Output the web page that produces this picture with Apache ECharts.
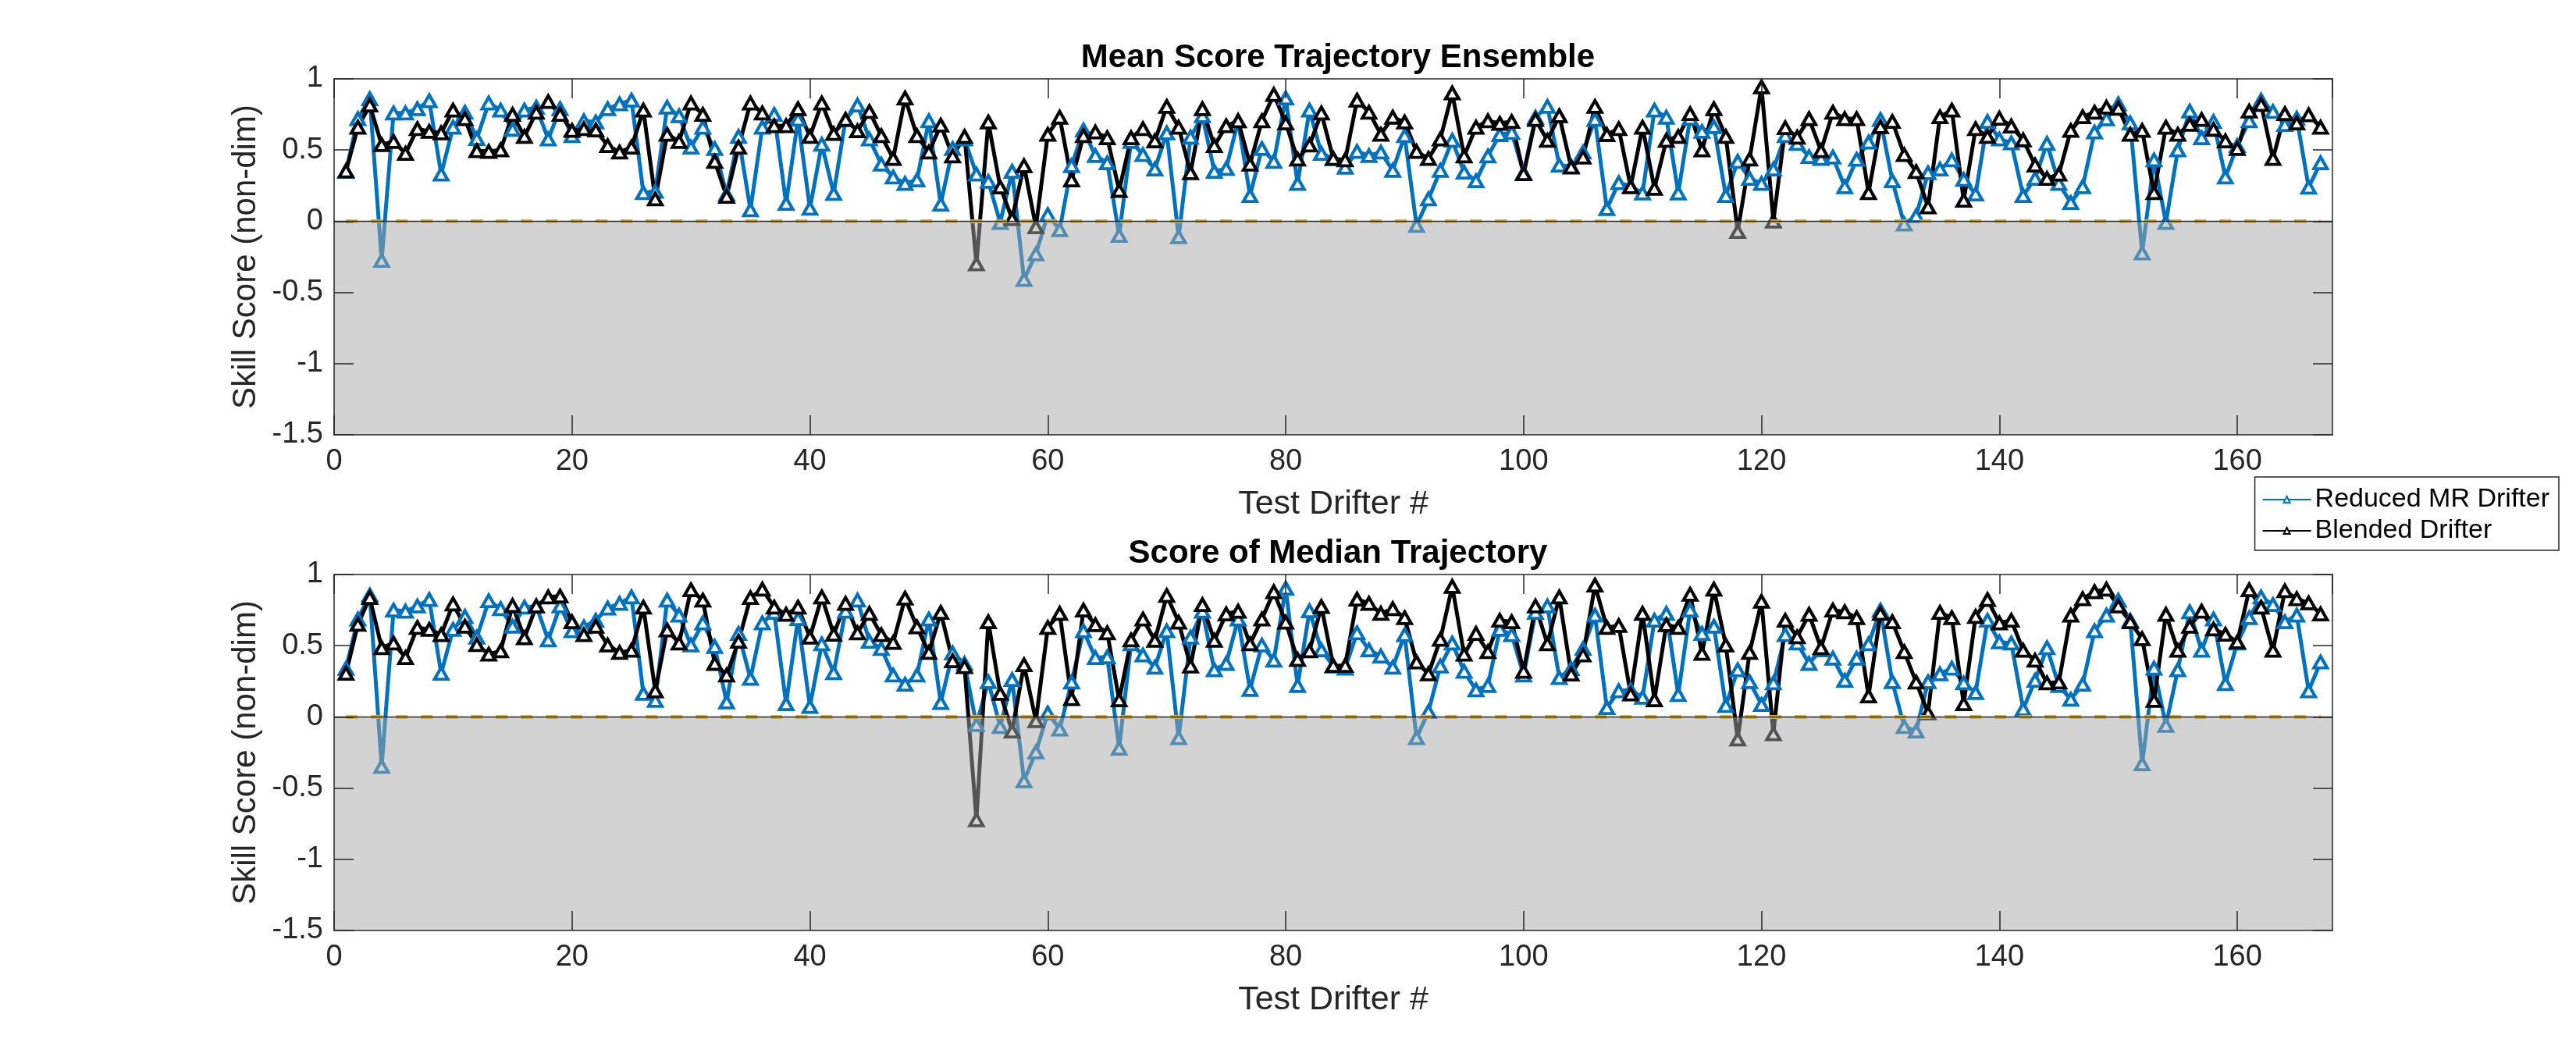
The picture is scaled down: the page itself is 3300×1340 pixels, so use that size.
<!DOCTYPE html>
<html style="height: 100%">
<head>
<meta charset="utf-8">
<script src="https://cdn.jsdelivr.net/npm/echarts@6/dist/echarts.min.js"></script>
</head>
<body style="height: 100%; margin: 0; background: #fff">
<div id="main" style="width: 3300px; height: 1340px;"></div>
<script type="text/javascript">
// skill scores per test drifter
var meanReduced = [0.35,0.72,0.86,-0.275,0.76,0.76,0.79,0.846,0.33,0.66,0.765,0.58,0.83,0.78,0.645,0.78,0.80,0.577,0.79,0.60,
    0.705,0.696,0.79,0.824,0.85,0.20,0.21,0.80,0.74,0.52,0.66,0.51,0.19,0.595,0.08,0.66,0.75,0.125,0.715,0.09,
    0.54,0.195,0.714,0.815,0.577,0.40,0.31,0.265,0.29,0.705,0.12,0.51,0.577,0.33,0.28,-0.01,0.35,-0.41,-0.23,0.046,
    -0.06,0.39,0.64,0.46,0.41,-0.10,0.56,0.467,0.366,0.62,-0.11,0.59,0.74,0.35,0.37,0.705,0.18,0.51,0.42,0.865,
    0.265,0.78,0.476,0.44,0.378,0.49,0.46,0.485,0.357,0.60,-0.03,0.156,0.357,0.568,0.344,0.284,0.458,0.608,0.623,0.34,
    0.73,0.806,0.394,0.385,0.485,0.714,0.088,0.27,0.247,0.198,0.78,0.73,0.198,0.723,0.63,0.663,0.18,0.42,0.30,0.265,
    0.366,0.60,0.546,0.454,0.44,0.45,0.242,0.434,0.555,0.714,0.284,-0.02,0.037,0.34,0.366,0.43,0.293,0.19,0.70,0.577,
    0.55,0.18,0.30,0.546,0.265,0.13,0.242,0.626,0.718,0.824,0.69,-0.223,0.43,-0.01,0.50,0.773,0.586,0.70,0.31,0.53,
    0.705,0.85,0.77,0.678,0.723,0.238,0.41];
var meanBlended = [0.353,0.66,0.815,0.537,0.56,0.476,0.65,0.63,0.62,0.78,0.72,0.495,0.49,0.50,0.75,0.595,0.765,0.84,0.75,0.637,
    0.65,0.64,0.53,0.485,0.52,0.78,0.156,0.61,0.56,0.83,0.75,0.42,0.174,0.52,0.83,0.76,0.67,0.67,0.79,0.595,
    0.83,0.615,0.714,0.635,0.77,0.60,0.44,0.865,0.60,0.485,0.674,0.458,0.595,-0.30,0.696,0.24,0.018,0.39,-0.04,0.61,
    0.73,0.29,0.60,0.626,0.586,0.216,0.586,0.65,0.564,0.806,0.66,0.34,0.79,0.53,0.67,0.705,0.40,0.705,0.89,0.69,
    0.436,0.535,0.76,0.44,0.43,0.85,0.765,0.61,0.73,0.696,0.49,0.44,0.577,0.90,0.458,0.66,0.705,0.687,0.70,0.333,
    0.714,0.568,0.74,0.38,0.45,0.806,0.608,0.65,0.242,0.66,0.23,0.568,0.595,0.755,0.50,0.79,0.595,-0.073,0.436,0.943,
    0.0,0.656,0.59,0.72,0.495,0.765,0.72,0.72,0.20,0.663,0.70,0.467,0.348,0.10,0.733,0.78,0.147,0.65,0.595,0.723,
    0.668,0.571,0.394,0.30,0.33,0.637,0.733,0.765,0.80,0.793,0.61,0.637,0.20,0.66,0.61,0.68,0.714,0.645,0.564,0.51,
    0.773,0.82,0.44,0.755,0.69,0.747,0.66];
var medianReduced = [0.34,0.687,0.855,-0.348,0.75,0.742,0.778,0.824,0.306,0.614,0.705,0.559,0.815,0.76,0.636,0.77,0.778,0.54,0.778,0.604,
    0.632,0.678,0.764,0.797,0.842,0.165,0.115,0.82,0.714,0.504,0.66,0.494,0.104,0.586,0.27,0.66,0.733,0.092,0.69,0.073,
    0.513,0.31,0.742,0.82,0.531,0.48,0.293,0.229,0.293,0.687,0.10,0.449,0.375,-0.055,0.247,-0.068,0.262,-0.449,-0.247,0.027,
    -0.086,0.244,0.604,0.416,0.421,-0.22,0.513,0.434,0.348,0.604,-0.147,0.559,0.742,0.33,0.375,0.687,0.192,0.504,0.397,0.903,
    0.22,0.745,0.47,0.357,0.342,0.59,0.47,0.427,0.348,0.577,-0.147,0.037,0.357,0.518,0.32,0.189,0.22,0.614,0.577,0.293,
    0.733,0.778,0.275,0.339,0.48,0.714,0.064,0.183,0.189,0.137,0.678,0.727,0.156,0.75,0.586,0.636,0.079,0.33,0.247,0.086,
    0.238,0.577,0.518,0.375,0.47,0.412,0.256,0.412,0.513,0.75,0.247,-0.068,-0.10,0.247,0.302,0.342,0.238,0.17,0.678,0.526,
    0.518,0.055,0.256,0.485,0.22,0.123,0.229,0.604,0.714,0.819,0.678,-0.33,0.342,-0.06,0.33,0.738,0.467,0.687,0.233,0.518,
    0.696,0.842,0.788,0.668,0.714,0.183,0.385];
var medianBlended = [0.306,0.65,0.837,0.485,0.518,0.416,0.628,0.614,0.577,0.793,0.636,0.507,0.44,0.463,0.782,0.555,0.778,0.842,0.848,0.668,
    0.577,0.636,0.504,0.452,0.467,0.77,0.183,0.61,0.518,0.892,0.82,0.375,0.293,0.531,0.837,0.897,0.77,0.72,0.77,0.559,
    0.842,0.58,0.797,0.59,0.727,0.577,0.522,0.833,0.632,0.452,0.733,0.394,0.353,-0.723,0.668,0.165,-0.10,0.366,-0.027,0.628,
    0.727,0.128,0.75,0.647,0.59,0.119,0.54,0.687,0.537,0.852,0.665,0.357,0.788,0.537,0.723,0.742,0.513,0.687,0.879,0.665,
    0.403,0.463,0.775,0.36,0.36,0.827,0.797,0.727,0.76,0.696,0.385,0.302,0.544,0.916,0.44,0.586,0.458,0.678,0.668,0.32,
    0.778,0.513,0.842,0.30,0.434,0.925,0.628,0.641,0.16,0.727,0.119,0.647,0.628,0.861,0.445,0.897,0.504,-0.156,0.452,0.811,
    -0.119,0.678,0.562,0.72,0.485,0.75,0.738,0.696,0.147,0.727,0.668,0.458,0.244,0.027,0.733,0.696,0.092,0.705,0.824,0.66,
    0.678,0.467,0.397,0.238,0.244,0.714,0.83,0.879,0.897,0.778,0.668,0.549,0.115,0.72,0.467,0.636,0.742,0.617,0.58,0.526,
    0.892,0.77,0.467,0.885,0.83,0.80,0.723];

var xRange = [0, 168];
var yRange = [-1.5, 1];
var zeroSpan = [1, 167];

var FONT = 'Liberation Sans, Arial, Helvetica, sans-serif';
var INK = '#262626';
var BLUE = '#0072BD';

function pairs(vals) {
    var out = [];
    for (var i = 0; i < vals.length; i++) out.push([i + 1, vals[i]]);
    return out;
}

function xAx(grid, pos, withLabels) {
    return {
        type: 'value', gridIndex: grid, position: pos, z: 10,
        min: xRange[0], max: xRange[1], interval: 20,
        name: withLabels ? 'Test Drifter #' : '', nameLocation: 'middle', nameGap: 68,
        nameTextStyle: { fontFamily: FONT, fontSize: 43, color: INK },
        axisLine: { show: true, onZero: false, lineStyle: { color: INK, width: 1.5 } },
        axisTick: { show: true, inside: true, length: 25, lineStyle: { color: INK, width: 1.5 } },
        axisLabel: { show: withLabels, showMaxLabel: false, margin: 16, fontFamily: FONT, fontSize: 38, color: INK },
        splitLine: { show: false }
    };
}

function yAx(grid, pos, withLabels) {
    return {
        type: 'value', gridIndex: grid, position: pos, z: 10,
        min: yRange[0], max: yRange[1], interval: 0.5,
        name: withLabels ? 'Skill Score (non-dim)' : '', nameLocation: 'middle', nameGap: 92,
        nameTextStyle: { fontFamily: FONT, fontSize: 42, color: INK },
        axisLine: { show: true, onZero: false, lineStyle: { color: INK, width: 1.5 } },
        axisTick: { show: true, inside: true, length: 25, lineStyle: { color: INK, width: 1.5 } },
        axisLabel: { show: withLabels, margin: 14, fontFamily: FONT, fontSize: 38, color: INK },
        splitLine: { show: false }
    };
}

function scoreLine(name, vals, color, axisIdx) {
    return {
        name: name, type: 'line', xAxisIndex: axisIdx, yAxisIndex: axisIdx,
        data: pairs(vals), z: 3,
        symbol: 'triangle', symbolSize: [17, 15],
        lineStyle: { color: color, width: 5 },
        itemStyle: { color: '#fff', borderColor: color, borderWidth: 4 },
        animation: false
    };
}

function zeroDash(axisIdx) {
    return {
        type: 'line', xAxisIndex: axisIdx, yAxisIndex: axisIdx, z: 4,
        data: [[zeroSpan[0], 0], [zeroSpan[1], 0]],
        symbol: 'none', silent: true,
        lineStyle: { color: '#EDB120', width: 5, type: [15, 17] },
        animation: false
    };
}

// translucent grey patch below zero, drawn over the lines like the original
function shade(axisIdx) {
    return {
        type: 'line', xAxisIndex: axisIdx, yAxisIndex: axisIdx, z: 6,
        data: [[xRange[0], 0], [xRange[1], 0]],
        symbol: 'none', silent: true,
        lineStyle: { color: INK, width: 1.5 },
        areaStyle: { origin: 'start', color: 'rgba(168,168,168,0.5)', opacity: 1 },
        animation: false
    };
}

var dom = document.getElementById('main');
var myChart = echarts.init(dom);
var option = {
    backgroundColor: '#fff',
    animation: false,
    title: [
        { text: 'Mean Score Trajectory Ensemble', left: 1709, top: 48, textAlign: 'center',
          textStyle: { fontFamily: FONT, fontSize: 42, fontWeight: 'bold', color: '#000' } },
        { text: 'Score of Median Trajectory', left: 1709, top: 683, textAlign: 'center',
          textStyle: { fontFamily: FONT, fontSize: 42, fontWeight: 'bold', color: '#000' } }
    ],
    legend: {
        data: ['Reduced MR Drifter', 'Blended Drifter'],
        orient: 'vertical', right: 22, top: 611,
        backgroundColor: '#fff', borderColor: INK, borderWidth: 1.5,
        padding: [11, 12, 7, 9], itemGap: 4,
        itemWidth: 62, itemHeight: 10,
        textStyle: { fontFamily: FONT, fontSize: 34, color: '#000', lineHeight: 36 }
    },
    grid: [
        { left: 428, top: 101, width: 2560, height: 456 },
        { left: 428, top: 736, width: 2560, height: 456 }
    ],
    xAxis: [xAx(0, 'bottom', true), xAx(0, 'top', false), xAx(1, 'bottom', true), xAx(1, 'top', false)],
    yAxis: [yAx(0, 'left', true), yAx(0, 'right', false), yAx(1, 'left', true), yAx(1, 'right', false)],
    series: [
        scoreLine('Reduced MR Drifter', meanReduced, BLUE, 0),
        scoreLine('Blended Drifter', meanBlended, '#000', 0),
        zeroDash(0),
        shade(0),
        scoreLine('Reduced MR Drifter', medianReduced, BLUE, 2),
        scoreLine('Blended Drifter', medianBlended, '#000', 2),
        zeroDash(2),
        shade(2)
    ]
};
myChart.setOption(option, true);
</script>
</body>
</html>
